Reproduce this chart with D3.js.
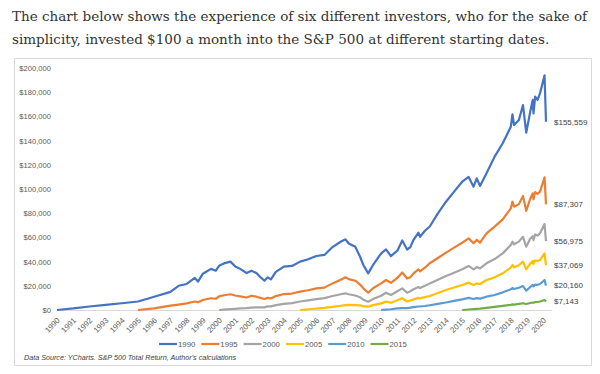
<!DOCTYPE html>
<html>
<head>
<meta charset="utf-8">
<script src="https://cdn.jsdelivr.net/npm/d3@7"></script>
<style>
  body { margin: 0; background: #fff; }
  svg { display: block; }
</style>
</head>
<body>
<div id="chart"></div>
<script>
// time points (decimal years)
const dates = [
  1990.0, 1991.0, 1992.0, 1993.0, 1994.0, 1995.0, 1996.0, 1997.0, 1997.5, 1998.0,
  1998.5, 1998.7, 1999.0, 1999.5, 1999.8, 2000.0, 2000.3, 2000.7, 2001.0, 2001.3,
  2001.7, 2002.0, 2002.3, 2002.6, 2002.8, 2003.0, 2003.2, 2003.5, 2004.0, 2004.5,
  2005.0, 2005.5, 2006.0, 2006.5, 2007.0, 2007.5, 2007.8, 2008.0, 2008.4, 2008.7,
  2008.9, 2009.2, 2009.5, 2010.0, 2010.3, 2010.6, 2011.0, 2011.3, 2011.6, 2011.8,
  2012.0, 2012.3, 2012.4, 2012.7, 2013.0, 2013.5, 2014.0, 2014.5, 2015.0, 2015.4,
  2015.7, 2015.9, 2016.1, 2016.5, 2017.0, 2017.5, 2018.0, 2018.1, 2018.2, 2018.5,
  2018.75, 2018.95, 2019.2, 2019.35, 2019.4, 2019.5, 2019.65, 2019.8, 2020.08, 2020.17
];

// portfolio values in $ thousands, null before the investor starts
const s1990 = [
  0, 1.3, 2.9, 4.2, 5.6, 7.0, 11, 15, 20, 21.5,
  26.5, 23.5, 30, 34, 32.5, 36.5, 38.5, 40, 36, 34,
  30.5, 32.5, 30.5, 26.5, 24.2, 27, 25.3, 31.5, 35.8, 36.4,
  40, 42, 44.6, 45.5, 52, 56.4, 58.4, 55, 52.3, 44,
  37.2, 30.3, 37.2, 46.8, 50.1, 44.6, 49, 57.5, 50, 52,
  58, 64, 60.5, 65.5, 69, 79.9, 89.5, 97.8, 106, 110,
  101.9, 108.8, 102.5, 113, 126.7, 137.8, 151.5, 161.7, 152.9, 157,
  169.4, 146.5, 164, 173.6, 162.5, 176.3, 173.6, 179, 194, 155.559
];
const s1995 = [
  null, null, null, null, null, 0, 1.4, 3.6, 4.5, 5.5,
  7, 6.5, 8.3, 9.7, 9.3, 11.3, 12.2, 13, 12, 11.3,
  10.3, 11.8, 11, 9.8, 9.1, 10, 9.6, 11.5, 13.2, 13.6,
  15.2, 16.3, 17.9, 18.5, 22, 25, 27, 25.5, 24.2, 21,
  17.9, 14.3, 18, 22, 24.8, 22.5, 26.5, 31, 26, 27,
  30.3, 33.6, 32, 35, 38.6, 43, 47.4, 51.5, 55.6, 59.2,
  55.1, 58, 55.6, 63.4, 68.9, 74.9, 84, 89.5, 85.4, 87.5,
  94.2, 82, 92, 96.4, 91.5, 97.5, 96, 97.8, 109.7, 87.307
];
const s2000 = [
  null, null, null, null, null, null, null, null, null, null,
  null, null, null, null, null, 0, 0.3, 0.7, 1, 1.3,
  1.5, 2, 2.2, 2.2, 2.2, 3, 3, 4, 5, 5.7,
  7, 8, 9, 9.8, 11.6, 13, 13.8, 13, 12, 10.5,
  8.5, 6.9, 9, 11.8, 14.3, 12.4, 15.5, 17.9, 14.3, 15.5,
  17.1, 19, 18.2, 20, 22, 25, 28.1, 30.8, 33.6, 36.4,
  33.6, 35.5, 34.4, 38.6, 42.1, 46.8, 53.7, 56.4, 54.3, 56.5,
  60.5, 52.3, 59, 61, 57.8, 62.5, 61.5, 63.4, 71, 56.975
];
const s2005 = [
  null, null, null, null, null, null, null, null, null, null,
  null, null, null, null, null, null, null, null, null, null,
  null, null, null, null, null, null, null, null, null, null,
  0, 0.6, 1.2, 1.8, 2.6, 3.5, 4.1, 4.2, 4.1, 3.8,
  3.2, 2.8, 4, 5.5, 6.9, 6, 8, 9.7, 7, 7.8,
  8.8, 10, 9.6, 10.6, 11.6, 14, 16.5, 18.6, 20.7, 22.6,
  20.7, 22, 21.5, 24.8, 27, 30.3, 35, 37.2, 35.3, 37,
  40, 33.6, 38.5, 40.5, 38, 41, 40.5, 41.3, 46.8, 37.069
];
const s2010 = [
  null, null, null, null, null, null, null, null, null, null,
  null, null, null, null, null, null, null, null, null, null,
  null, null, null, null, null, null, null, null, null, null,
  null, null, null, null, null, null, null, null, null, null,
  null, null, null, 0, 0.3, 0.6, 1.3, 1.6, 1.6, 1.9,
  2.4, 2.9, 2.9, 3.3, 3.9, 5, 6.2, 7.5, 8.8, 10,
  9.1, 9.8, 9.4, 11, 12.4, 14.6, 17.1, 18.2, 17.4, 18.4,
  19.8, 16, 19, 20.7, 19.5, 21, 20.8, 21.5, 24.8, 20.16
];
const s2015 = [
  null, null, null, null, null, null, null, null, null, null,
  null, null, null, null, null, null, null, null, null, null,
  null, null, null, null, null, null, null, null, null, null,
  null, null, null, null, null, null, null, null, null, null,
  null, null, null, null, null, null, null, null, null, null,
  null, null, null, null, null, null, null, null, 0, 0.4,
  0.7, 0.9, 1.1, 1.7, 2.6, 3.4, 4.3, 4.6, 4.5, 5,
  5.6, 5, 5.8, 6.2, 6, 6.5, 6.6, 7, 8.3, 7.143
];

const seriesNames = ['1990', '1995', '2000', '2005', '2010', '2015'];
const seriesValues = [s1990, s1995, s2000, s2005, s2010, s2015];
const endLabels = ['$155,559', '$87,307', '$56,975', '$37,069', '$20,160', '$7,143'];
const yTicks = [0, 20000, 40000, 60000, 80000, 100000, 120000, 140000, 160000, 180000, 200000];
const yearLabels = d3.range(1990, 2021);
const colors = ['#4472C4', '#ED7D31', '#A5A5A5', '#FFC000', '#5B9BD5', '#70AD47'];

const width = 600, height = 374;

const svg = d3.select('#chart').append('svg')
  .attr('width', width)
  .attr('height', height);

// intro text
const intro = svg.append('g')
  .attr('font-family', '"DejaVu Serif", serif')
  .attr('fill', '#333');
const introLines = [
  'The chart below shows the experience of six different investors, who for the sake of',
  'simplicity, invested $100 a month into the S&P 500 at different starting dates.'
];
const t1 = intro.append('text').attr('x', 12).attr('y', 21).attr('font-size', 16).text(introLines[0]);
// fit the first line to the column width
const fs = 16 * 576 / t1.node().getComputedTextLength();
t1.attr('font-size', fs);
intro.append('text').attr('x', 12).attr('y', 44).attr('font-size', fs).text(introLines[1]);

// chart frame
svg.append('rect')
  .attr('x', 14.5).attr('y', 58.5)
  .attr('width', 577).attr('height', 307)
  .attr('fill', '#fff')
  .attr('stroke', '#D9D9D9');

const x = d3.scaleLinear()
  .domain([1990, 2020.17])
  .range([57, 546]);

const y = d3.scaleLinear()
  .domain([0, 200000])
  .range([310, 68]);

const axisFont = '"Liberation Sans", Arial, sans-serif';

// y axis labels
const yAxis = svg.append('g')
  .attr('transform', 'translate(51,0)')
  .call(d3.axisLeft(y).tickValues(yTicks).tickSize(0).tickPadding(0).tickFormat(d => '$' + d3.format(',')(d)));
yAxis.select('.domain').remove();
yAxis.selectAll('text')
  .attr('font-family', axisFont)
  .attr('font-size', 7.6)
  .attr('fill', '#595959');

// baseline
svg.append('line')
  .attr('x1', x(1990)).attr('x2', x(2020.17) + 6)
  .attr('y1', y(0) + 0.5).attr('y2', y(0) + 0.5)
  .attr('stroke', '#D9D9D9');

// x axis labels, rotated
const xAxis = svg.append('g')
  .attr('transform', `translate(0,${y(0)})`)
  .call(d3.axisBottom(x).tickValues(yearLabels).tickSize(0).tickFormat(d3.format('d')));
xAxis.select('.domain').remove();
xAxis.selectAll('text')
  .attr('font-family', axisFont)
  .attr('font-size', 7.8)
  .attr('fill', '#595959')
  .attr('text-anchor', 'end')
  .attr('x', 0)
  .attr('y', 0)
  .attr('dy', '0.35em')
  .attr('transform', 'translate(1,9) rotate(-45)');

// lines
const line = d3.line()
  .defined(d => d.v != null)
  .x(d => x(d.t))
  .y(d => y(d.v * 1000));

seriesNames.forEach((name, i) => {
  const pts = dates.map((t, j) => ({ t: t, v: seriesValues[i][j] }));
  svg.append('path')
    .datum(pts)
    .attr('fill', 'none')
    .attr('stroke', colors[i])
    .attr('stroke-width', 2.2)
    .attr('stroke-linejoin', 'round')
    .attr('d', line);

  const last = seriesValues[i][seriesValues[i].length - 1];
  svg.append('text')
    .attr('x', 554)
    .attr('y', y(last * 1000))
    .attr('dy', '0.35em')
    .attr('font-family', axisFont)
    .attr('font-size', 8)
    .attr('fill', '#404040')
    .text(endLabels[i]);
});

// legend
const legend = svg.append('g').attr('transform', 'translate(159,344)');
seriesNames.forEach((name, i) => {
  const g = legend.append('g').attr('transform', `translate(${i * 42.3},0)`);
  g.append('line')
    .attr('x1', 0).attr('x2', 18)
    .attr('stroke', colors[i])
    .attr('stroke-width', 2.2);
  g.append('text')
    .attr('x', 19)
    .attr('dy', '0.35em')
    .attr('font-family', axisFont)
    .attr('font-size', 7.8)
    .attr('fill', '#595959')
    .text(name);
});

// source note
svg.append('text')
  .attr('x', 24)
  .attr('y', 360)
  .attr('font-family', axisFont)
  .attr('font-size', 7.2)
  .attr('font-style', 'italic')
  .attr('fill', '#404040')
  .text("Data Source: YCharts. S&P 500 Total Return, Author's calculations");
</script>
</body>
</html>
